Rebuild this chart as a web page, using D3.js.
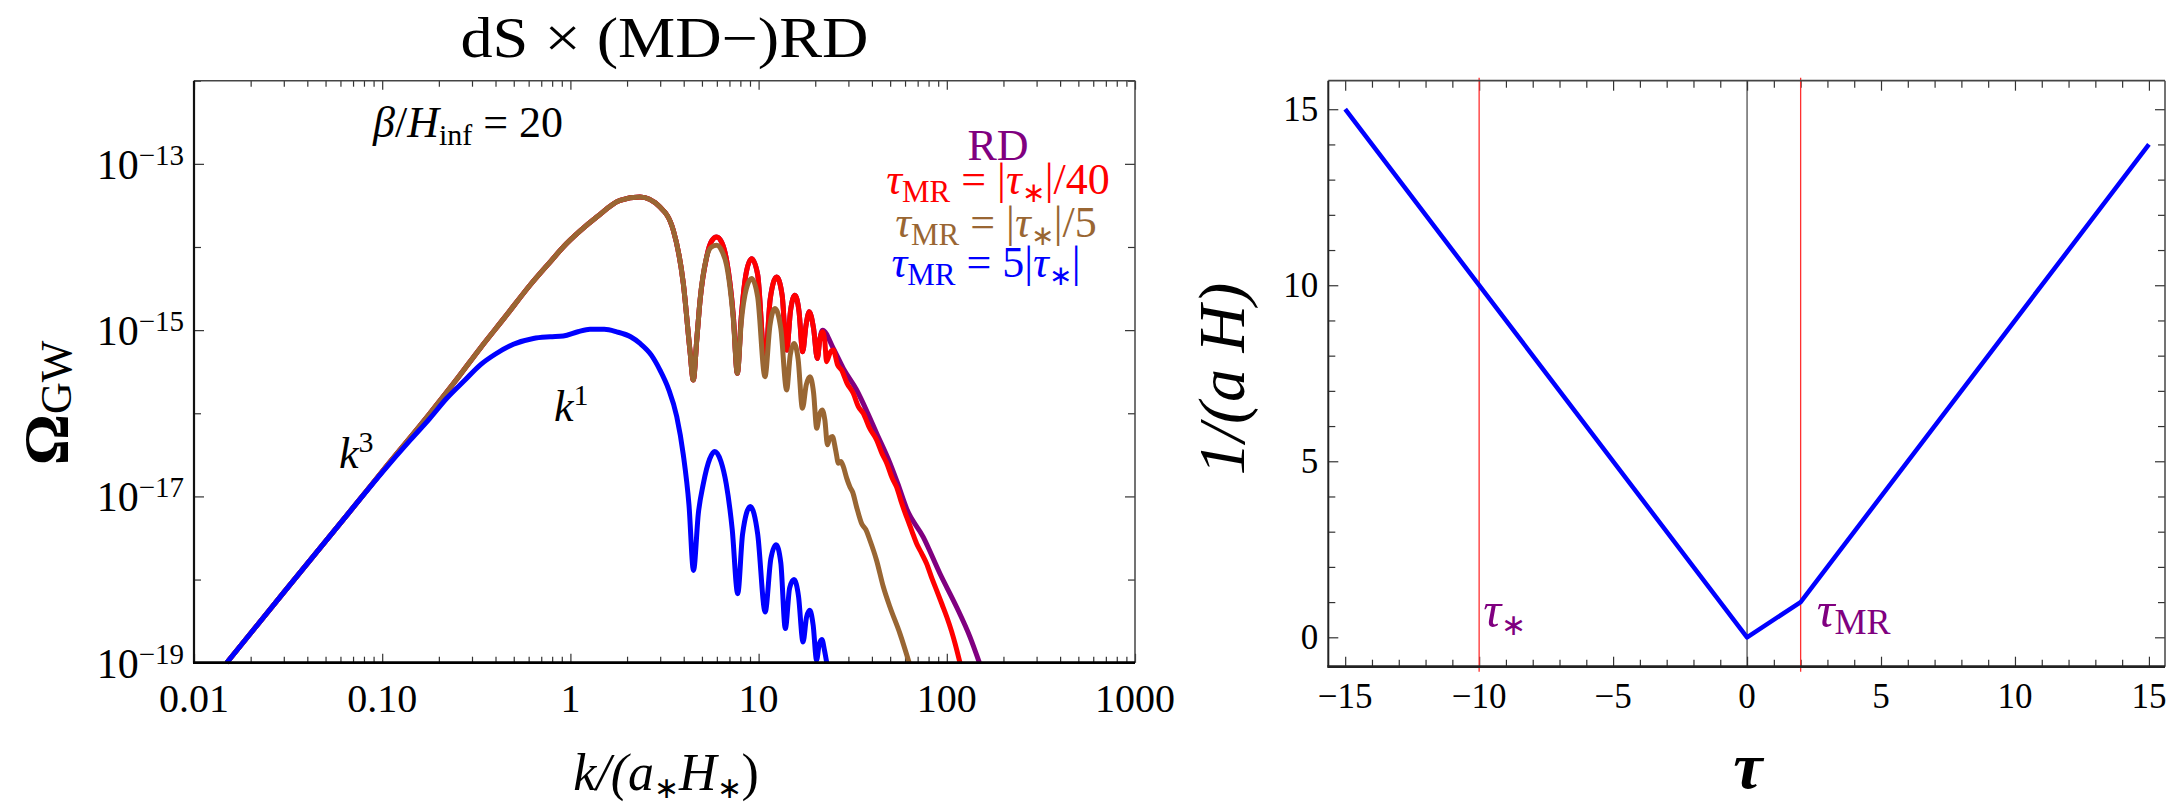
<!DOCTYPE html>
<html><head><meta charset="utf-8">
<script src="https://cdn.jsdelivr.net/npm/d3@7"></script>
<style>
body{margin:0;background:#fff;}
</style></head><body>
<svg id="chart" width="2182" height="803"></svg>
<script>
// ---------------- DATA (log10 units for the log-log panel) -------------
// common rise shared by RD / red / brown curves
const sharedLogK  = [-1.826,-1.525,-1.171,-1.000,-0.746,-0.600,-0.480,-0.350,-0.215,-0.100,-0.038,0.050,0.140,0.264,0.370,0.476,0.547,0.600,0.635,0.653,0.672,0.689,0.724];
const sharedLogOm = [-19.00,-18.16,-17.18,-16.70,-16.00,-15.58,-15.22,-14.85,-14.46,-14.16,-14.00,-13.81,-13.64,-13.44,-13.40,-13.52,-13.80,-14.44,-15.24,-15.60,-15.10,-14.64,-14.12];
// tau_MR = |tau*|/40 (red)
const redLogK  = [0.750,0.777,0.805,0.830,0.866,0.887,0.908,0.935,0.963,0.995,1.034,1.062,1.096,1.125,1.149,1.170,1.193,1.215,1.234,1.252,1.269,1.292,1.312,1.326,1.340,1.352,1.361,1.380,1.397,1.420,1.441,1.470,1.503,1.530,1.556,1.590,1.627,1.655,1.681,1.710,1.734,1.760,1.787,1.815,1.840,1.865,1.893,1.920,1.946,1.975,2.000,2.025,2.044,2.070];
const redLogOm = [-13.93,-13.88,-13.95,-14.16,-14.84,-15.52,-14.84,-14.30,-14.14,-14.33,-15.40,-14.62,-14.36,-14.58,-15.24,-14.76,-14.58,-14.78,-15.26,-14.94,-14.78,-14.98,-15.34,-15.10,-15.02,-15.14,-15.38,-15.27,-15.24,-15.42,-15.48,-15.64,-15.76,-15.92,-16.00,-16.18,-16.32,-16.48,-16.60,-16.78,-16.89,-17.08,-17.25,-17.42,-17.57,-17.68,-17.81,-17.98,-18.13,-18.30,-18.45,-18.62,-18.77,-19.00];
// RD (purple): identical to red up to k~20, then its own tail
const rdLogK  = [0.750,0.777,0.805,0.830,0.866,0.887,0.908,0.935,0.963,0.995,1.034,1.062,1.096,1.125,1.149,1.170,1.193,1.215,1.234,1.252,1.269,1.292,1.312,1.326,1.340,1.397,1.450,1.521,1.580,1.627,1.698,1.740,1.787,1.875,1.964,2.052,2.123,2.173];
const rdLogOm = [-13.93,-13.88,-13.95,-14.16,-14.84,-15.52,-14.84,-14.30,-14.14,-14.33,-15.40,-14.62,-14.36,-14.58,-15.24,-14.76,-14.58,-14.78,-15.26,-14.94,-14.78,-14.98,-15.34,-15.10,-15.00,-15.22,-15.46,-15.72,-16.00,-16.24,-16.60,-16.85,-17.15,-17.49,-17.93,-18.33,-18.69,-19.00];
// tau_MR = |tau*|/5 (brown)
const brownLogK  = [0.750,0.777,0.805,0.830,0.866,0.887,0.908,0.935,0.963,0.995,1.034,1.060,1.087,1.118,1.149,1.168,1.188,1.210,1.233,1.253,1.273,1.292,1.309,1.323,1.338,1.352,1.366,1.378,1.392,1.410,1.424,1.437,1.450,1.468,1.486,1.500,1.521,1.548,1.570,1.592,1.627,1.663,1.698,1.751,1.800];
const brownLogOm = [-14.00,-13.98,-14.05,-14.22,-14.88,-15.52,-14.90,-14.50,-14.38,-14.60,-15.56,-14.95,-14.74,-14.98,-15.72,-15.30,-15.16,-15.35,-15.94,-15.66,-15.56,-15.75,-16.18,-16.02,-15.96,-16.08,-16.38,-16.30,-16.28,-16.45,-16.60,-16.58,-16.64,-16.78,-16.89,-16.95,-17.13,-17.33,-17.40,-17.53,-17.77,-18.09,-18.33,-18.65,-19.00];
// tau_MR = 5|tau*| (blue)
const blueLogK  = [-1.826,-1.525,-1.171,-1.000,-0.850,-0.750,-0.657,-0.560,-0.480,-0.400,-0.303,-0.197,-0.108,-0.038,0.040,0.104,0.180,0.246,0.320,0.370,0.430,0.476,0.520,0.565,0.600,0.630,0.654,0.680,0.706,0.740,0.767,0.800,0.828,0.860,0.889,0.915,0.956,0.995,1.035,1.065,1.093,1.118,1.142,1.165,1.188,1.212,1.236,1.255,1.272,1.290,1.308,1.322,1.336,1.350,1.362];
const blueLogOm = [-19.00,-18.16,-17.18,-16.71,-16.32,-16.07,-15.82,-15.60,-15.42,-15.29,-15.17,-15.10,-15.08,-15.07,-15.02,-14.99,-14.99,-15.02,-15.08,-15.16,-15.30,-15.48,-15.70,-16.04,-16.50,-17.10,-17.89,-17.20,-16.85,-16.55,-16.46,-16.58,-16.85,-17.40,-18.17,-17.45,-17.12,-17.45,-18.39,-17.75,-17.58,-17.80,-18.59,-18.10,-18.00,-18.20,-18.75,-18.45,-18.37,-18.55,-18.97,-18.78,-18.72,-18.85,-19.00];

const xTickValuesL = [0.01, 0.1, 1, 10, 100, 1000];
const xTickLabelsL = ["0.01", "0.10", "1", "10", "100", "1000"];
const yLabelExpL   = [-13, -15, -17, -19];

// right panel: 1/(aH) vs tau
const tauVals   = [-15, 0, 2, 15];
const invAHVals = [15, 0, 1, 14];
const markerTau = [-10, 2];
const xTickValuesR = [-15, -10, -5, 0, 5, 10, 15];
const yTickValuesR = [0, 5, 10, 15];

// ---------------- DRAWING ----------------
const svg = d3.select("#chart");
const C = {purple:"#800080", red:"#ff0000", brown:"#996633", blue:"#0000ff"};
const SERIF = '"Liberation Serif"';

function txt(g, x, y, s, size, anchor) {
  return g.append("text").attr("x", x).attr("y", y).style("font-family", SERIF)
    .attr("font-size", size).attr("text-anchor", anchor || "start").attr("fill", "#000").text(s);
}
function rich(g, x, y, parts, opts) {
  const t = g.append("text").attr("x", x).attr("y", y)
    .style("font-family", SERIF)
    .attr("text-anchor", opts.anchor || "start")
    .attr("font-size", opts.size)
    .attr("fill", opts.color || "#000");
  if (opts.transform) t.attr("transform", opts.transform);
  let cur = 0;
  parts.forEach(p => {
    const sh = p.shift || 0;
    const ts = t.append("tspan").text(p.t).attr("dy", sh - cur).style("font-family", SERIF);
    cur = sh;
    if (p.italic) ts.style("font-style", "italic");
    if (p.bold) ts.style("font-weight", "bold");
    if (p.size) ts.attr("font-size", p.size);
  });
  return t;
}

// ===== LEFT PANEL =====
const L = {x0:194, x1:1135, y0:80.7, y1:662.7};
const xL = d3.scaleLog().domain([0.01, 1000]).range([L.x0, L.x1]);
const yL = d3.scaleLog().domain([1e-19, 1e-12]).range([L.y1, L.y0]);

svg.append("clipPath").attr("id","clipL").append("rect")
  .attr("x", L.x0).attr("y", L.y0).attr("width", L.x1-L.x0).attr("height", L.y1-L.y0+2);

const isDecade = v => Math.abs(Math.log10(v) - Math.round(Math.log10(v))) < 1e-9;
const minorXL = xL.ticks().filter(v => !isDecade(v));
const decadesY = d3.range(-19, -11).map(e => Math.pow(10, e));
const majorYL = yLabelExpL.map(e => Math.pow(10, e));
const minorYL = decadesY.filter(v => !yLabelExpL.includes(Math.round(Math.log10(v))));

function styleAxis(g){ g.select(".domain").remove(); g.selectAll("line").attr("stroke","#333").attr("stroke-width",1.2); }

svg.append("g").attr("transform",`translate(0,${L.y1})`).call(d3.axisBottom(xL).tickValues(xTickValuesL).tickSize(-9).tickFormat("")).call(styleAxis);
svg.append("g").attr("transform",`translate(0,${L.y1})`).call(d3.axisBottom(xL).tickValues(minorXL).tickSize(-6).tickFormat("")).call(styleAxis);
svg.append("g").attr("transform",`translate(0,${L.y0})`).call(d3.axisTop(xL).tickValues(xTickValuesL).tickSize(-9).tickFormat("")).call(styleAxis);
svg.append("g").attr("transform",`translate(0,${L.y0})`).call(d3.axisTop(xL).tickValues(minorXL).tickSize(-6).tickFormat("")).call(styleAxis);
svg.append("g").attr("transform",`translate(${L.x0},0)`).call(d3.axisLeft(yL).tickValues(majorYL).tickSize(-10).tickFormat("")).call(styleAxis);
svg.append("g").attr("transform",`translate(${L.x0},0)`).call(d3.axisLeft(yL).tickValues(minorYL).tickSize(-7).tickFormat("")).call(styleAxis);
svg.append("g").attr("transform",`translate(${L.x1},0)`).call(d3.axisRight(yL).tickValues(majorYL).tickSize(-10).tickFormat("")).call(styleAxis);
svg.append("g").attr("transform",`translate(${L.x1},0)`).call(d3.axisRight(yL).tickValues(minorYL).tickSize(-7).tickFormat("")).call(styleAxis);

// tick labels
xTickValuesL.forEach((v,i) => txt(svg, xL(v), L.y1 + 49, xTickLabelsL[i], 40, "middle"));
yLabelExpL.forEach(e => {
  rich(svg, L.x0 - 10, yL(Math.pow(10,e)) + 15, [{t:"10"},{t:"\u2212"+Math.abs(e), size:29, shift:-14}], {anchor:"end", size:42});
});

// curves
const toPts = (lk, lo) => lk.map((v,i) => [Math.pow(10, v), Math.pow(10, lo[i])]);
const lineL = d3.line().x(d => xL(d[0])).y(d => yL(d[1])).curve(d3.curveMonotoneX);
const series = [
  {k: sharedLogK.concat(rdLogK),    o: sharedLogOm.concat(rdLogOm),    c: C.purple},
  {k: sharedLogK.concat(redLogK),   o: sharedLogOm.concat(redLogOm),   c: C.red},
  {k: sharedLogK.concat(brownLogK), o: sharedLogOm.concat(brownLogOm), c: C.brown},
  {k: blueLogK, o: blueLogOm, c: C.blue}
];
const gc = svg.append("g").attr("clip-path","url(#clipL)");
series.forEach(s => {
  gc.append("path").datum(toPts(s.k, s.o)).attr("d", lineL)
    .attr("fill","none").attr("stroke", s.c).attr("stroke-width", 5).attr("stroke-linejoin","round");
});

// frame
svg.append("line").attr("x1",L.x0).attr("x2",L.x1).attr("y1",L.y0).attr("y2",L.y0).attr("stroke","#444").attr("stroke-width",1.5);
svg.append("line").attr("x1",L.x1).attr("x2",L.x1).attr("y1",L.y0).attr("y2",L.y1).attr("stroke","#444").attr("stroke-width",1.5);
svg.append("line").attr("x1",L.x0).attr("x2",L.x0).attr("y1",L.y0).attr("y2",L.y1).attr("stroke","#111").attr("stroke-width",2.2);
svg.append("line").attr("x1",L.x0-1).attr("x2",L.x1).attr("y1",L.y1).attr("y2",L.y1).attr("stroke","#000").attr("stroke-width",2.8);

// title & labels
txt(svg, (L.x0+L.x1)/2, 57, "dS \u00d7 (MD\u2212)RD", 56, "middle")
  .attr("textLength", 408).attr("lengthAdjust", "spacingAndGlyphs");
rich(svg, 373, 137, [{t:"\u03b2", italic:true},{t:"/"},{t:"H", italic:true},{t:"inf", size:30, shift:8},{t:" = 20", shift:0}], {size:44});
rich(svg, 339, 468, [{t:"k", italic:true},{t:"3", size:30, shift:-16}], {size:44});
rich(svg, 554, 421, [{t:"k", italic:true},{t:"1", size:30, shift:-16}], {size:44});

// legend
const legend = [
  {y:160, c:C.purple, x:998, parts:[{t:"RD"}]},
  {y:194, c:C.red, x:998, parts:[{t:"\u03c4", italic:true},{t:"MR", size:31, shift:8},{t:" = |", shift:0},{t:"\u03c4", italic:true},{t:"\u2217", size:28, shift:8},{t:"|/40", shift:0}]},
  {y:237, c:C.brown, x:996, parts:[{t:"\u03c4", italic:true},{t:"MR", size:31, shift:8},{t:" = |", shift:0},{t:"\u03c4", italic:true},{t:"\u2217", size:28, shift:8},{t:"|/5", shift:0}]},
  {y:277, c:C.blue, x:986, parts:[{t:"\u03c4", italic:true},{t:"MR", size:31, shift:8},{t:" = 5|", shift:0},{t:"\u03c4", italic:true},{t:"\u2217", size:28, shift:8},{t:"|", shift:0}]}
];
legend.forEach(r => rich(svg, r.x, r.y, r.parts, {anchor:"middle", size:44, color:r.c}));

// axis titles
rich(svg, 0, 0, [{t:"\u03a9", bold:true},{t:"GW", size:44, shift:3}], {anchor:"middle", size:64, transform:"translate(68,403) rotate(-90)"});
rich(svg, 666, 790, [{t:"k/(a", italic:true},{t:"\u2217", size:30, shift:8},{t:"H", italic:true, shift:0},{t:"\u2217", size:30, shift:8},{t:")", shift:0}], {anchor:"middle", size:52});

// ===== RIGHT PANEL =====
const R = {x0:1328.3, x1:2165, y0:80.7, y1:666.7};
const xR = d3.scaleLinear().domain([-15.63, 15.6]).range([R.x0, R.x1]);
const yR = d3.scaleLinear().domain([-0.835, 15.81]).range([R.y1, R.y0]);
const minorXR = d3.range(-15, 16).filter(v => v % 5 !== 0);
const minorYR = d3.range(0, 16).filter(v => v % 5 !== 0);

svg.append("g").attr("transform",`translate(0,${R.y1})`).call(d3.axisBottom(xR).tickValues(xTickValuesR).tickSize(-10).tickFormat("")).call(styleAxis);
svg.append("g").attr("transform",`translate(0,${R.y1})`).call(d3.axisBottom(xR).tickValues(minorXR).tickSize(-7).tickFormat("")).call(styleAxis);
svg.append("g").attr("transform",`translate(0,${R.y0})`).call(d3.axisTop(xR).tickValues(xTickValuesR).tickSize(-10).tickFormat("")).call(styleAxis);
svg.append("g").attr("transform",`translate(0,${R.y0})`).call(d3.axisTop(xR).tickValues(minorXR).tickSize(-7).tickFormat("")).call(styleAxis);
svg.append("g").attr("transform",`translate(${R.x0},0)`).call(d3.axisLeft(yR).tickValues(yTickValuesR).tickSize(-10).tickFormat("")).call(styleAxis);
svg.append("g").attr("transform",`translate(${R.x0},0)`).call(d3.axisLeft(yR).tickValues(minorYR).tickSize(-7).tickFormat("")).call(styleAxis);
svg.append("g").attr("transform",`translate(${R.x1},0)`).call(d3.axisRight(yR).tickValues(yTickValuesR).tickSize(-10).tickFormat("")).call(styleAxis);
svg.append("g").attr("transform",`translate(${R.x1},0)`).call(d3.axisRight(yR).tickValues(minorYR).tickSize(-7).tickFormat("")).call(styleAxis);

const fmtR = d3.format("d");
xTickValuesR.forEach(v => txt(svg, xR(v), R.y1 + 41, fmtR(v), 35, "middle"));
yTickValuesR.forEach(v => txt(svg, R.x0 - 10, yR(v) + 12, fmtR(v), 35, "end"));

// vertical reference lines
svg.append("line").attr("x1", xR(0)).attr("x2", xR(0)).attr("y1", R.y0).attr("y2", R.y1).attr("stroke","#333").attr("stroke-width",1.1);
markerTau.forEach(t => {
  svg.append("line").attr("x1", xR(t)).attr("x2", xR(t)).attr("y1", R.y0 - 3).attr("y2", R.y1 + 5)
     .attr("stroke","#ff3030").attr("stroke-width",1.3);
});

// blue 1/(aH) line
const lineR = d3.line().x((d,i) => xR(tauVals[i])).y((d,i) => yR(invAHVals[i]));
svg.append("path").datum(tauVals).attr("d", lineR).attr("fill","none").attr("stroke", C.blue).attr("stroke-width", 4.5).attr("stroke-linejoin","round");

// frame right
svg.append("line").attr("x1",R.x0).attr("x2",R.x1).attr("y1",R.y0).attr("y2",R.y0).attr("stroke","#444").attr("stroke-width",1.8);
svg.append("line").attr("x1",R.x1).attr("x2",R.x1).attr("y1",R.y0).attr("y2",R.y1).attr("stroke","#444").attr("stroke-width",1.5);
svg.append("line").attr("x1",R.x0).attr("x2",R.x0).attr("y1",R.y0).attr("y2",R.y1).attr("stroke","#222").attr("stroke-width",2.0);
svg.append("line").attr("x1",R.x0-1).attr("x2",R.x1).attr("y1",R.y1).attr("y2",R.y1).attr("stroke","#222").attr("stroke-width",2.8);

// marker labels
rich(svg, xR(markerTau[0]) + 4, 627, [{t:"\u03c4", italic:true},{t:"\u2217", size:30, shift:8}], {size:50, color:C.purple});
rich(svg, xR(markerTau[1]) + 16, 627, [{t:"\u03c4", italic:true},{t:"MR", size:36, shift:7}], {size:50, color:C.purple});

// axis titles right
rich(svg, 0, 0, [{t:"1/(a H)", italic:true}], {anchor:"middle", size:66, transform:"translate(1244,379) rotate(-90)"});
rich(svg, 1748, 788, [{t:"\u03c4", italic:true, bold:true}], {anchor:"middle", size:66});
</script>
</body></html>
